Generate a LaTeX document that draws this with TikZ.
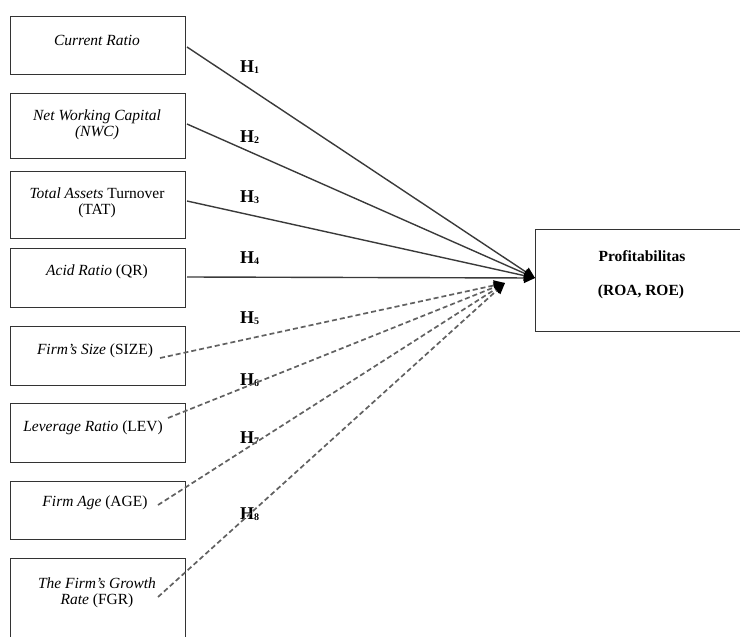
\documentclass[tikz,border=0pt]{standalone}
\usepackage{fontspec}
\setmainfont{Liberation Serif}
\usetikzlibrary{arrows.meta}
\definecolor{ln}{HTML}{3a3a3a}
\definecolor{bx}{HTML}{333333}
\tikzset{
  x=1pt,y=-1pt,
  vbox/.style={draw=bx,line width=1.4pt,minimum width=175pt,inner sep=0pt,anchor=north west},
  btxt/.style={font=\fontsize{15.5}{16.5}\selectfont,align=center,inner sep=0pt},
  hl/.style={font=\fontsize{18}{18}\selectfont\bfseries,inner sep=0pt,anchor=west},
  sline/.style={draw=ln,line width=1.4pt,-{Triangle[length=11pt,width=10pt,color=black]}},
  dline/.style={draw=ln!80,line width=1.7pt,dash pattern=on 5pt off 3pt,-{Triangle[length=11pt,width=10pt,color=black]}},
  ptxt/.style={font=\fontsize{15.5}{16}\selectfont\bfseries,inner sep=0pt},
}
\newcommand{\Hs}[1]{H\raisebox{-1.5pt}{\fontsize{10}{10}\selectfont\bfseries #1}}
\begin{document}
\begin{tikzpicture}
\useasboundingbox (0,0) rectangle (740,637);
\clip (0,0) rectangle (740,637);
% boxes
\node[vbox,minimum height=58pt] (b1) at (10,16) {};
\node[vbox,minimum height=65pt] (b2) at (10,93) {};
\node[vbox,minimum height=67pt] (b3) at (10,171) {};
\node[vbox,minimum height=59pt] (b4) at (10,248) {};
\node[vbox,minimum height=59pt] (b5) at (10,326) {};
\node[vbox,minimum height=59pt] (b6) at (10,403) {};
\node[vbox,minimum height=58pt] (b7) at (10,481) {};
\node[vbox,minimum height=100pt] (b8) at (10,558) {};
\node[draw=bx,line width=1.4pt,minimum width=230pt,minimum height=102pt,inner sep=0pt,anchor=north west] (P) at (535,229) {};
% texts
\node[btxt] (t1) at (97,40) {\textit{Current Ratio}};
\node[btxt] (t2) at (97,125) {\textit{Net Working Capital}\\\textit{(NWC)}};
\node[btxt] (t3) at (97,203) {\textit{Total Assets} Turnover\\(TAT)};
\node[btxt] (t4) at (97,272) {\textit{Acid Ratio} (QR)};
\node[btxt] (t5) at (95,351) {\textit{Firm's Size} (SIZE)};
\node[btxt] (t6) at (93,428) {\textit{Leverage Ratio} (LEV)};
\node[btxt] (t7) at (95,503) {\textit{Firm Age} (AGE)};
\node[btxt] (t8) at (97,593) {\textit{The Firm's Growth}\\\textit{Rate} (FGR)};
\node[ptxt] (p1) at (642,256) {Profitabilitas};
\node[ptxt] (p2) at (641,292) {(ROA, ROE)};
% H labels
\node[hl] (h1) at (240,67) {\Hs{1}};
\node[hl] (h2) at (240,137) {\Hs{2}};
\node[hl] (h3) at (240,197) {\Hs{3}};
\node[hl] (h4) at (240,258) {\Hs{4}};
\node[hl] (h5) at (240,318) {\Hs{5}};
\node[hl] (h6) at (240,380) {\Hs{6}};
\node[hl] (h7) at (240,438) {\Hs{7}};
\node[hl] (h8) at (240,514) {\Hs{8}};
% connector points
\coordinate (s1) at (187,47);
\coordinate (s2) at (187,124);
\coordinate (s3) at (187,201);
\coordinate (s4) at (187,277);
\coordinate (d5) at (160,358);
\coordinate (d6) at (168,418);
\coordinate (d7) at (158,505);
\coordinate (d8) at (158,597);
\coordinate (tgt) at (535,278);
\coordinate (dtgt) at (505,283);
% connectors
\draw[sline] (s1) -- (tgt);
\draw[sline] (s2) -- (tgt);
\draw[sline] (s3) -- (tgt);
\draw[sline] (s4) -- (tgt);
\draw[dline] (d5) -- (dtgt);
\draw[dline] (d6) -- (dtgt);
\draw[dline] (d7) -- (dtgt);
\draw[dline] (d8) -- (dtgt);
\end{tikzpicture}
\end{document}
